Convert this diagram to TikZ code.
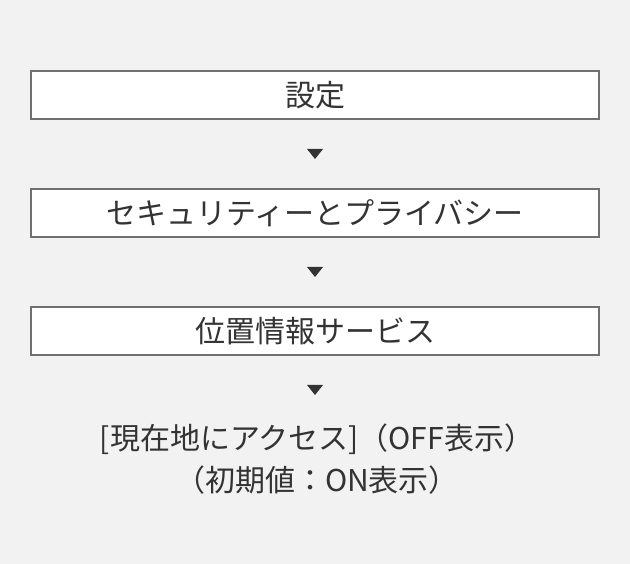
\documentclass[tikz,border=0pt]{standalone}
\usepackage{fontspec}
\setmainfont{Noto Sans CJK JP}
\usepackage{tikz}
\usetikzlibrary{positioning,calc}
\definecolor{stepbg}{RGB}{242,242,242}
\definecolor{stepline}{RGB}{112,112,112}
\definecolor{steptext}{RGB}{51,51,51}

\begin{document}
\begin{tikzpicture}[x=1pt, y=-1pt,
    stepbox/.style={draw=stepline, line width=2pt, fill=white,
      minimum width=568pt, minimum height=48pt, inner sep=0pt,
      text=steptext, font=\fontsize{30pt}{34pt}\selectfont},
    note/.style={text=steptext, align=center, inner sep=0pt,
      font=\fontsize{30pt}{42pt}\selectfont}]
  \fill[stepbg] (0,0) rectangle (630,564);
  \useasboundingbox (0,0) rectangle (630,564);
  \node[stepbox] (settings) at (315,95) {設定};
  \node[stepbox] (privacy) at (315,213) {セキュリティーとプライバシー};
  \node[stepbox] (location) at (315,331) {位置情報サービス};
  \node[note] (access) at (317,459) {[現在地にアクセス]（OFF表示）\\（初期値：ON表示）};
  % down markers
  \coordinate (m1) at ($(settings.south)!0.5!(privacy.north)$);
  \coordinate (m2) at ($(privacy.south)!0.5!(location.north)$);
  \coordinate (m3) at ($(location.south)+(0,34)$);
  \foreach \m in {m1,m2,m3}
    \fill[steptext] (\m) ++(-8,-5) -- ++(16,0) -- ++(-8,10) -- cycle;
\end{tikzpicture}
\end{document}
